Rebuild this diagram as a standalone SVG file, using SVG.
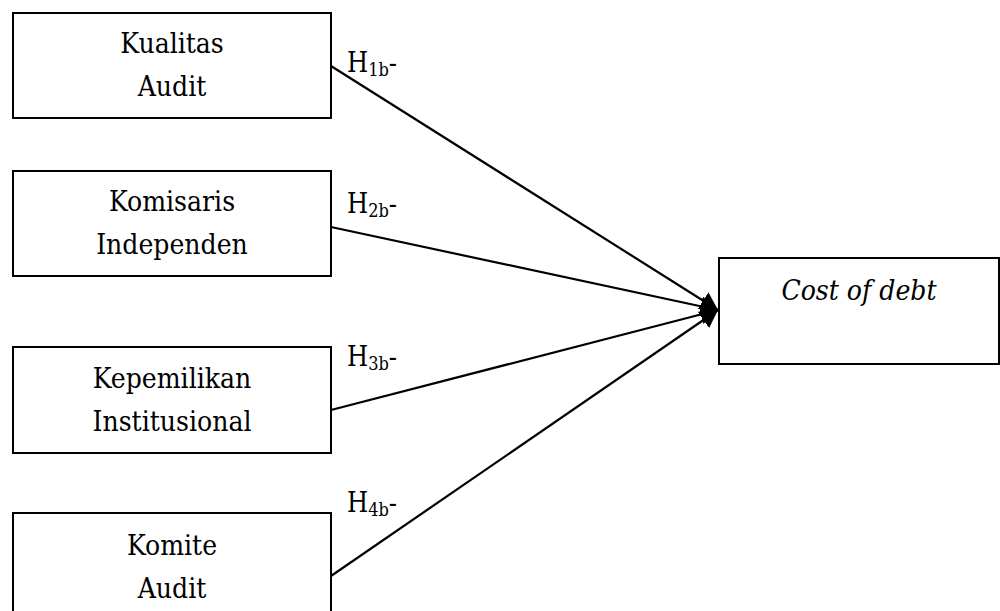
<svg xmlns="http://www.w3.org/2000/svg" width="1000" height="611" viewBox="0 0 1000 611">
<style>
.box{fill:#fff;stroke:#000;stroke-width:2}
text{font-family:'DejaVu Serif Condensed','DejaVu Serif',serif;fill:#000}
.t{font-size:28px;text-anchor:middle}
.lbl{font-size:27px}
.sub{font-size:18px}
.edge{stroke:#000;stroke-width:2.2;fill:none;marker-end:url(#ah)}
</style>
<defs>
<marker id="ah" markerWidth="9" markerHeight="9" refX="8" refY="4.5" orient="auto" markerUnits="strokeWidth">
<path d="M0,0 L8,4.5 L0,9 z" fill="#000"/>
</marker>
</defs>
<rect width="1000" height="611" fill="#fff"/>
<g id="connectors">
<line class="edge" x1="331" y1="66" x2="718" y2="310"/>
<line class="edge" x1="331" y1="227" x2="718" y2="310"/>
<line class="edge" x1="331" y1="410" x2="718" y2="310"/>
<line class="edge" x1="331" y1="576" x2="718" y2="310"/>
<text class="lbl" x="347" y="72">H<tspan class="sub" dy="4">1b</tspan><tspan dy="-4">-</tspan></text>
<text class="lbl" x="347" y="213">H<tspan class="sub" dy="4">2b</tspan><tspan dy="-4">-</tspan></text>
<text class="lbl" x="347" y="366">H<tspan class="sub" dy="4">3b</tspan><tspan dy="-4">-</tspan></text>
<text class="lbl" x="347" y="512">H<tspan class="sub" dy="4">4b</tspan><tspan dy="-4">-</tspan></text>
</g>
<g id="kualitas-audit">
<rect class="box" x="13" y="13" width="318" height="105"/>
<text class="t" x="172" y="53">Kualitas</text>
<text class="t" x="172" y="96">Audit</text>
</g>
<g id="komisaris-independen">
<rect class="box" x="13" y="171" width="318" height="105"/>
<text class="t" x="172" y="211">Komisaris</text>
<text class="t" x="172" y="254">Independen</text>
</g>
<g id="kepemilikan-institusional">
<rect class="box" x="13" y="347" width="318" height="106"/>
<text class="t" x="172" y="388">Kepemilikan</text>
<text class="t" x="172" y="431">Institusional</text>
</g>
<g id="komite-audit">
<rect class="box" x="13" y="513" width="318" height="110"/>
<text class="t" x="172" y="555">Komite</text>
<text class="t" x="172" y="598">Audit</text>
</g>
<g id="cost-of-debt">
<rect class="box" x="719" y="258" width="280" height="106"/>
<text class="t" x="859" y="300" font-style="italic">Cost of debt</text>
</g>
</svg>
